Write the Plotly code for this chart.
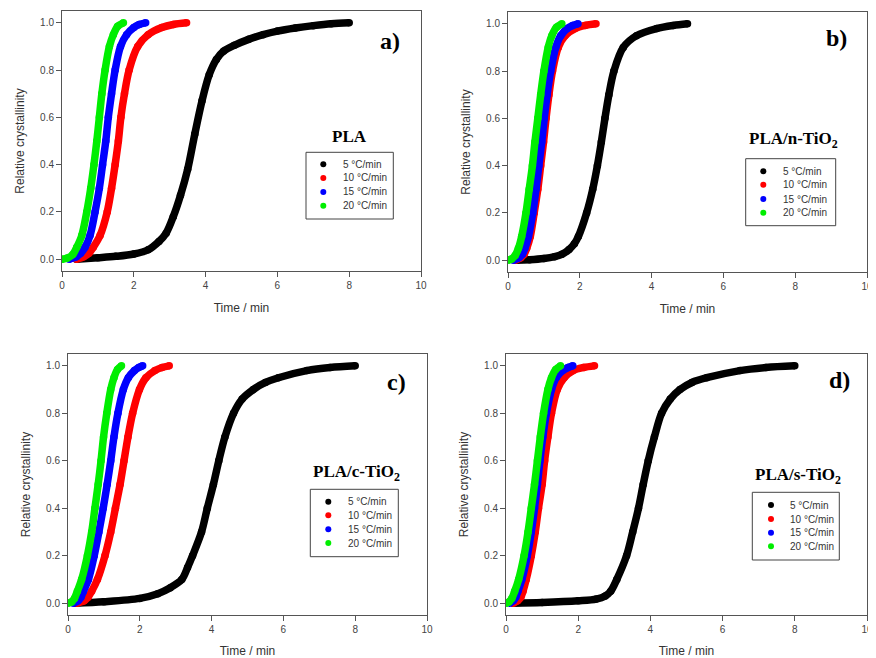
import plotly.graph_objects as go
from plotly.subplots import make_subplots

# ---------------- data ----------------
rate_labels = ["5 °C/min", "10 °C/min", "15 °C/min", "20 °C/min"]
rate_colors = ["#000000", "#ff0000", "#0000ff", "#00ee00"]
panel_letters = ["a)", "b)", "c)", "d)"]
panel_names = ["PLA", "PLA/n-TiO<sub>2</sub>", "PLA/c-TiO<sub>2</sub>", "PLA/s-TiO<sub>2</sub>"]

x_ticks = [0, 2, 4, 6, 8, 10]
y_ticks = [0.0, 0.2, 0.4, 0.6, 0.8, 1.0]

# common crystallinity levels for the fast curves
lvl17 = [0.0, 0.01, 0.025, 0.05, 0.1, 0.2, 0.3, 0.4, 0.5, 0.6, 0.7, 0.8, 0.9, 0.95, 0.98, 0.993, 1.0]
lvl16 = [0.0, 0.005, 0.02, 0.05, 0.1, 0.2, 0.3, 0.4, 0.5, 0.6, 0.7, 0.8, 0.9, 0.95, 0.985, 1.0]

# panel a) PLA
a5_t = [0.4, 1.0, 1.5, 2.0, 2.4, 2.7, 2.9, 3.1, 3.3, 3.5, 3.7, 3.9, 4.1, 4.3, 4.5, 4.8, 5.2, 5.6, 6.0, 6.5, 7.0, 7.5, 8.0]
a5_x = [0.0, 0.006, 0.012, 0.022, 0.04, 0.075, 0.11, 0.18, 0.27, 0.38, 0.53, 0.67, 0.78, 0.845, 0.88, 0.905, 0.93, 0.95, 0.965, 0.978, 0.988, 0.996, 1.0]
a10_t = [0.4, 0.6, 0.75, 0.87, 1.06, 1.26, 1.38, 1.48, 1.57, 1.64, 1.74, 1.87, 2.11, 2.40, 2.78, 3.1, 3.47]
a15_t = [0.2, 0.4, 0.52, 0.64, 0.78, 0.92, 1.04, 1.13, 1.22, 1.29, 1.38, 1.48, 1.63, 1.80, 2.0, 2.15, 2.33]
a20_t = [0.0, 0.15, 0.3, 0.41, 0.55, 0.69, 0.80, 0.89, 0.97, 1.04, 1.11, 1.20, 1.32, 1.43, 1.55, 1.71]

# panel b) PLA/n-TiO2
b5_t = [0.2, 0.6, 1.0, 1.3, 1.5, 1.7, 1.85, 1.96, 2.19, 2.36, 2.49, 2.60, 2.70, 2.81, 2.95, 3.21, 3.58, 4.14, 4.6, 5.0]
b5_x = [0.0, 0.002, 0.007, 0.015, 0.025, 0.045, 0.07, 0.1, 0.2, 0.3, 0.4, 0.5, 0.6, 0.7, 0.8, 0.9, 0.95, 0.98, 0.993, 1.0]
b10_t = [0.2, 0.35, 0.45, 0.52, 0.62, 0.73, 0.83, 0.91, 0.99, 1.06, 1.14, 1.24, 1.40, 1.59, 1.87, 2.15, 2.45]
b15_t = [0.15, 0.3, 0.4, 0.47, 0.57, 0.69, 0.78, 0.86, 0.94, 1.01, 1.09, 1.19, 1.33, 1.47, 1.65, 1.8, 1.95]
b20_t = [0.0, 0.1, 0.2, 0.29, 0.38, 0.50, 0.59, 0.68, 0.75, 0.83, 0.91, 1.00, 1.12, 1.22, 1.35, 1.5]

# panel c) PLA/c-TiO2
c5_t = [0.2, 1.0, 2.0, 2.5, 2.85, 3.17, 3.33, 3.47, 3.72, 3.88, 4.05, 4.20, 4.37, 4.61, 4.85, 5.16, 5.5, 5.86, 6.65, 7.3, 8.0]
c5_x = [0.0, 0.006, 0.02, 0.04, 0.065, 0.1, 0.15, 0.2, 0.3, 0.4, 0.5, 0.6, 0.7, 0.8, 0.86, 0.9, 0.93, 0.95, 0.98, 0.993, 1.0]
c10_t = [0.25, 0.45, 0.56, 0.66, 0.82, 1.03, 1.19, 1.32, 1.45, 1.56, 1.67, 1.80, 1.99, 2.17, 2.42, 2.62, 2.82]
c15_t = [0.15, 0.28, 0.36, 0.43, 0.57, 0.73, 0.86, 0.98, 1.09, 1.19, 1.28, 1.39, 1.54, 1.68, 1.85, 1.97, 2.08]
c20_t = [0.0, 0.1, 0.18, 0.26, 0.38, 0.54, 0.66, 0.75, 0.84, 0.92, 0.99, 1.08, 1.19, 1.28, 1.38, 1.49]

# panel d) PLA/s-TiO2
d5_t = [0.2, 1.0, 2.0, 2.5, 2.75, 2.9, 3.07, 3.34, 3.51, 3.67, 3.80, 3.94, 4.11, 4.31, 4.55, 4.82, 5.15, 5.56, 6.48, 7.2, 8.0]
d5_x = [0.0, 0.003, 0.01, 0.017, 0.03, 0.05, 0.1, 0.2, 0.3, 0.4, 0.5, 0.6, 0.7, 0.8, 0.86, 0.9, 0.93, 0.95, 0.98, 0.993, 1.0]
d10_t = [0.2, 0.32, 0.41, 0.47, 0.56, 0.70, 0.81, 0.90, 1.00, 1.07, 1.16, 1.26, 1.42, 1.61, 1.86, 2.15, 2.45]
d15_t = [0.1, 0.2, 0.27, 0.33, 0.44, 0.59, 0.70, 0.79, 0.87, 0.94, 1.02, 1.12, 1.26, 1.39, 1.57, 1.72, 1.85]
d20_t = [0.0, 0.08, 0.16, 0.24, 0.35, 0.50, 0.61, 0.70, 0.79, 0.87, 0.95, 1.04, 1.16, 1.26, 1.38, 1.51]

panels = [
    [(a5_t, a5_x), (a10_t, lvl17), (a15_t, lvl17), (a20_t, lvl16)],
    [(b5_t, b5_x), (b10_t, lvl17), (b15_t, lvl17), (b20_t, lvl16)],
    [(c5_t, c5_x), (c10_t, lvl17), (c15_t, lvl17), (c20_t, lvl16)],
    [(d5_t, d5_x), (d10_t, lvl17), (d15_t, lvl17), (d20_t, lvl16)],
]

# ---------------- layout helpers ----------------
# the page body adds an 8px margin, so the figure is 8px smaller and shifted
OFF = 8
W, H = 876 - OFF, 658 - OFF
def px(x):
    return (x - OFF) / W
def py(y):
    return 1 - (y - OFF) / H

# plot frames in window pixels: (left, right, top, bottom)
frames = [(62, 421, 11, 271), (508, 867, 12, 272), (68, 427, 354, 615), (506, 867, 354, 615)]
letter_pos = [(390, 40.7), (836, 37.7), (396, 381.7), (839.5, 380)]
name_pos = [(349, 136.7), (793.5, 140), (356.7, 472.7), (797.5, 475.7)]
# legend boxes: (x0, x1, y0, y1), marker x, text x, row ys
legend_specs = [
    ((306, 393.3, 152.3, 219), 323.3, 340.7, [164.3, 178, 192, 205.7]),
    ((745.7, 835.7, 158.7, 225.7), 763.3, 780.7, [171.3, 184.7, 199, 212.7]),
    ((310.3, 398.3, 489.3, 556.7), 328.3, 345.7, [501.7, 515.3, 529.3, 543]),
    ((752.3, 839.3, 492.3, 560), 771, 788.3, [505, 519, 532.7, 546.3]),
]

fig = make_subplots(rows=2, cols=2)

for p, series in enumerate(panels):
    row, col = p // 2 + 1, p % 2 + 1
    for s, (tt, xx) in enumerate(series):
        fig.add_trace(go.Scatter(
            x=tt, y=xx, mode="lines+markers", name=rate_labels[s],
            line=dict(color=rate_colors[s], width=7.5, shape="spline", smoothing=0.9),
            marker=dict(color=rate_colors[s], size=7.5),
            showlegend=False, hoverinfo="x+y"), row=row, col=col)

axis_font = dict(family="Liberation Sans, Arial, sans-serif", size=10, color="#444")
title_font = dict(family="Liberation Sans, Arial, sans-serif", size=12, color="#333")
serif = "Liberation Serif, Times New Roman, serif"

annotations = []
shapes = []
for p in range(4):
    l, r, t, b = frames[p]
    sfx = "" if p == 0 else str(p + 1)
    fig.layout["xaxis" + sfx].update(
        domain=[px(l), px(r)], range=[0, 10], tickvals=x_ticks,
        showline=True, mirror=True, linecolor="#555", linewidth=1,
        ticks="outside", ticklen=5, tickcolor="#555", showgrid=False, zeroline=False,
        tickfont=axis_font, ticklabeloverflow="allow",
        title=dict(text="Time / min", font=title_font, standoff=13),
        automargin=False)
    fig.layout["yaxis" + sfx].update(
        domain=[py(b), py(t)], range=[-0.05, 1.05], tickvals=y_ticks, tickformat=".1f",
        showline=True, mirror=True, linecolor="#555", linewidth=1,
        ticks="outside", ticklen=5, tickcolor="#555", showgrid=False, zeroline=False,
        tickfont=axis_font, ticklabeloverflow="allow",
        title=dict(text="Relative crystallinity", font=title_font, standoff=12),
        automargin=False)

    lx, ly = letter_pos[p]
    annotations.append(dict(text="<b>" + panel_letters[p] + "</b>", x=px(lx), y=py(ly),
                            xref="paper", yref="paper", showarrow=False,
                            xanchor="center", yanchor="middle",
                            font=dict(family=serif, size=24, color="#000")))
    nx, ny = name_pos[p]
    annotations.append(dict(text="<b>" + panel_names[p] + "</b>", x=px(nx), y=py(ny),
                            xref="paper", yref="paper", showarrow=False,
                            xanchor="center", yanchor="middle",
                            font=dict(family=serif, size=17, color="#000")))

    (bx0, bx1, by0, by1), mx, tx, rows = legend_specs[p]
    shapes.append(dict(type="rect", xref="paper", yref="paper",
                       x0=px(bx0), x1=px(bx1), y0=py(by1), y1=py(by0),
                       line=dict(color="#444", width=1), fillcolor="rgba(0,0,0,0)"))
    for s, ry in enumerate(rows):
        rr = 3
        shapes.append(dict(type="circle", xref="paper", yref="paper",
                           x0=px(mx - rr), x1=px(mx + rr), y0=py(ry + rr), y1=py(ry - rr),
                           line=dict(color=rate_colors[s], width=0), fillcolor=rate_colors[s]))
        annotations.append(dict(text=rate_labels[s], x=px(tx), y=py(ry),
                                xref="paper", yref="paper", showarrow=False,
                                xanchor="left", yanchor="middle",
                                font=dict(family="Liberation Sans, Arial, sans-serif", size=10, color="#333")))

fig.update_layout(
    width=W, height=H, margin=dict(l=0, r=0, t=0, b=0),
    paper_bgcolor="white", plot_bgcolor="white",
    showlegend=False, annotations=annotations, shapes=shapes)

fig.write_html("out.html")
